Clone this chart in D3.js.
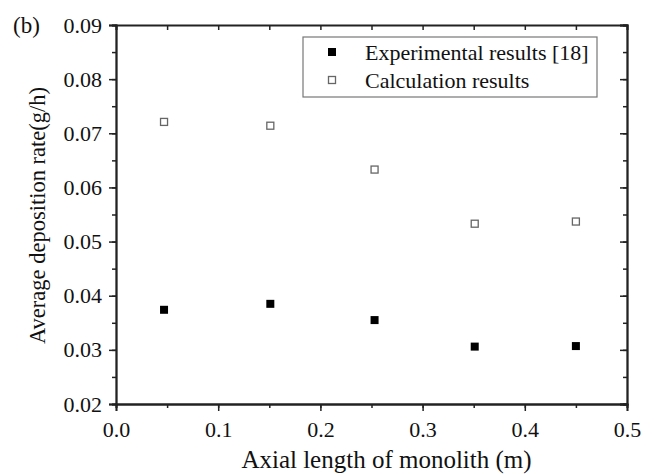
<!DOCTYPE html>
<html>
<meta charset="utf-8">
<style>
    body { margin: 0; background: #fff; }
    svg { display: block; background: #fff; }
    text { font-family: 'Liberation Serif', 'Times New Roman', serif; fill: #111; }
</style>
<body>
<svg width="654" height="474"></svg>
<script src="https://d3js.org/d3.v7.min.js"></script>
<script>
    // values
    let axialLength = [0.047, 0.151, 0.253, 0.351, 0.450];
    let experimental = [0.0374, 0.0385, 0.0355, 0.0306, 0.0307];
    let calculated = [0.0721, 0.0714, 0.0633, 0.0533, 0.0537];
    let seriesNames = ["Experimental results [18]", "Calculation results"];
    let xTicks = [0.0, 0.1, 0.2, 0.3, 0.4, 0.5];
    let yTicks = [0.02, 0.03, 0.04, 0.05, 0.06, 0.07, 0.08, 0.09];

    let margin = {top: 25, right: 27, bottom: 70, left: 116},
        width = 654 - margin.left - margin.right,
        height = 474 - margin.top - margin.bottom;

    let svg = d3.select("svg").append("g")
        .attr("transform", "translate(" + margin.left + "," + margin.top + ")");

    let xScale = d3.scaleLinear().domain([0, 0.5]).range([0, width]);
    let yScale = d3.scaleLinear().domain([0.02, 0.09]).range([height, 0]);

    let xMinor = d3.range(0, 0.5001, 0.05);
    let yMinor = d3.range(0.02, 0.09001, 0.005);

    function styleAxis(g) {
        g.attr("font-family", null);
        g.selectAll("path").attr("stroke", "#222").attr("stroke-width", 1.8);
        g.selectAll("line").attr("stroke", "#222").attr("stroke-width", 1.5);
        g.selectAll("text").style("font-size", "22px").attr("fill", "#111");
    }

    // minor ticks first, then majors
    svg.append("g").attr("transform", "translate(0," + height + ")")
        .call(d3.axisBottom(xScale).tickValues(xMinor).tickSize(4).tickFormat(""))
        .call(styleAxis);
    svg.append("g").attr("transform", "translate(0," + height + ")")
        .call(d3.axisBottom(xScale).tickValues(xTicks).tickSize(7).tickPadding(10).tickFormat(d3.format(".1f")))
        .call(styleAxis);

    svg.append("g")
        .call(d3.axisLeft(yScale).tickValues(yMinor).tickSize(4).tickFormat(""))
        .call(styleAxis);
    svg.append("g")
        .call(d3.axisLeft(yScale).tickValues(yTicks).tickSize(7).tickPadding(7).tickFormat(d3.format(".2f")))
        .call(styleAxis);

    // top and right axes, ticks inward
    svg.append("g")
        .call(d3.axisTop(xScale).tickValues(xMinor).tickSize(-5).tickFormat(""))
        .call(styleAxis);
    svg.append("g").attr("transform", "translate(" + width + ",0)")
        .call(d3.axisRight(yScale).tickValues(yMinor).tickSize(-4).tickFormat(""))
        .call(styleAxis);
    svg.append("g").attr("transform", "translate(" + width + ",0)")
        .call(d3.axisRight(yScale).tickValues(yTicks).tickSize(-7).tickFormat(""))
        .call(styleAxis);

    // axis titles
    svg.append("text")
        .attr("x", width / 2 + 15).attr("y", height + 64)
        .attr("text-anchor", "middle")
        .style("font-size", "25px")
        .text("Axial length of monolith (m)");
    svg.append("text")
        .attr("transform", "translate(" + (-71) + "," + (height / 2 + 1) + ") rotate(-90)")
        .attr("text-anchor", "middle")
        .style("font-size", "22.5px")
        .text("Average deposition rate(g/h)");
    svg.append("text")
        .attr("x", -103).attr("y", 8)
        .style("font-size", "23px")
        .text("(b)");

    // data points
    let markerSize = 8;
    svg.append("g").selectAll("rect")
        .data(axialLength)
        .join("rect")
        .attr("x", (d, i) => xScale(d) - markerSize / 2)
        .attr("y", (d, i) => yScale(experimental[i]) - markerSize / 2)
        .attr("width", markerSize).attr("height", markerSize)
        .attr("fill", "#000");

    let openSize = 7;
    svg.append("g").selectAll("rect")
        .data(axialLength)
        .join("rect")
        .attr("x", (d, i) => xScale(d) - openSize / 2)
        .attr("y", (d, i) => yScale(calculated[i]) - openSize / 2)
        .attr("width", openSize).attr("height", openSize)
        .attr("fill", "#fff").attr("stroke", "#666").attr("stroke-width", 1.3);

    // legend
    let legend = svg.append("g").attr("transform", "translate(" + (303 - margin.left) + "," + (37 - margin.top) + ")");
    legend.append("rect")
        .attr("width", 294).attr("height", 60)
        .attr("fill", "#fff").attr("stroke", "#777").attr("stroke-width", 1.2);
    let rows = legend.selectAll("g.row")
        .data(seriesNames)
        .join("g").attr("class", "row")
        .attr("transform", (d, i) => "translate(0," + (15 + i * 28) + ")");
    rows.append("rect")
        .attr("x", (d, i) => i === 0 ? 29 - 4 : 29 - 3.5)
        .attr("y", (d, i) => i === 0 ? -4 : -3.5)
        .attr("width", (d, i) => i === 0 ? 8 : 7)
        .attr("height", (d, i) => i === 0 ? 8 : 7)
        .attr("fill", (d, i) => i === 0 ? "#000" : "#fff")
        .attr("stroke", (d, i) => i === 0 ? "none" : "#666")
        .attr("stroke-width", 1.3);
    rows.append("text")
        .attr("x", 62).attr("y", 0)
        .attr("dy", "0.35em")
        .style("font-size", "22px")
        .text(d => d);
</script>
</body>
</html>
